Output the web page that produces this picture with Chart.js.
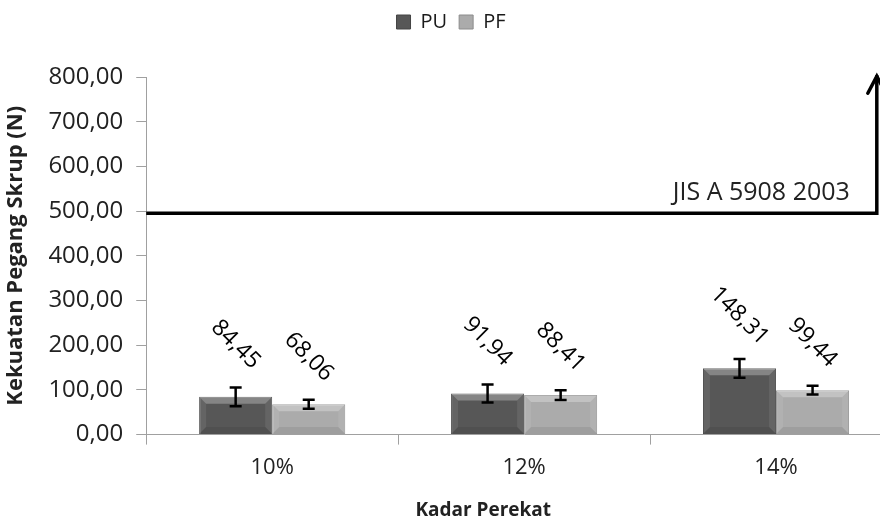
<!DOCTYPE html>
<html>
<head>
<meta charset="utf-8" />
<title>Kekuatan Pegang Skrup</title>
<script src="https://cdn.jsdelivr.net/npm/chart.js@4.4.0/dist/chart.umd.min.js"></script>
<style>
	body { margin: 0; padding: 0; overflow: hidden; background: #fff; }
	#wrap { position: relative; width: 905px; height: 521px; }
</style>
</head>
<body>

<div id="wrap"><canvas id="chart"></canvas></div>

<script>

// data
var categories = ['10%', '12%', '14%'];
var puValues = [84.45, 91.94, 148.31];
var pfValues = [68.06, 88.41, 99.44];
var puErrors = [21, 20, 21];
var pfErrors = [10, 11, 10];
var yMin = 0, yMax = 800, yStep = 100;

// JIS reference line
var jisLabel = 'JIS A 5908 2003';
var jisValue = 495;
var jisArrowTop = 804;
var jisEndCategory = 2.4;

var errors = [puErrors, pfErrors];
var fontName = "'Open Sans', sans-serif";

function fmt(v) {
	return v.toFixed(2).replace('.', ',');
}

// extra room under the legend
var legendSpace = {
	id: 'legendSpace',
	beforeInit: function (chart) {
		var fit = chart.legend.fit;
		chart.legend.fit = function () {
			fit.bind(chart.legend)();
			this.height += 35;
		};
	}
};

// bevel look on each bar
var bevelPlugin = {
	id: 'bevel',
	afterDatasetsDraw: function (chart) {
		var ctx = chart.ctx;
		chart.data.datasets.forEach(function (ds, i) {
			chart.getDatasetMeta(i).data.forEach(function (el) {
				var l = el.x - el.width / 2, r = el.x + el.width / 2;
				var t = el.y, b = el.base;
				var w = Math.min(7, (b - t) / 3);
				ctx.save();
				ctx.fillStyle = 'rgba(255,255,255,0.28)';
				ctx.beginPath();
				ctx.moveTo(l, t); ctx.lineTo(r, t); ctx.lineTo(r - w, t + w); ctx.lineTo(l + w, t + w);
				ctx.fill();
				ctx.fillStyle = 'rgba(255,255,255,0.08)';
				ctx.beginPath();
				ctx.moveTo(l, t); ctx.lineTo(l + w, t + w); ctx.lineTo(l + w, b - w); ctx.lineTo(l, b);
				ctx.fill();
				ctx.beginPath();
				ctx.moveTo(r, t); ctx.lineTo(r - w, t + w); ctx.lineTo(r - w, b - w); ctx.lineTo(r, b);
				ctx.fill();
				ctx.fillStyle = 'rgba(0,0,0,0.07)';
				ctx.beginPath();
				ctx.moveTo(l, b); ctx.lineTo(r, b); ctx.lineTo(r - w, b - w); ctx.lineTo(l + w, b - w);
				ctx.fill();
				ctx.restore();
			});
		});
	}
};

// error bars and rotated value labels
var errorPlugin = {
	id: 'errorBars',
	afterDatasetsDraw: function (chart) {
		var ctx = chart.ctx;
		var y = chart.scales.y;
		chart.data.datasets.forEach(function (ds, i) {
			chart.getDatasetMeta(i).data.forEach(function (el, j) {
				var v = ds.data[j];
				var e = errors[i][j];
				var top = y.getPixelForValue(v + e);
				var bot = y.getPixelForValue(v - e);
				ctx.save();
				ctx.strokeStyle = '#000';
				ctx.lineWidth = 2.5;
				ctx.beginPath();
				ctx.moveTo(el.x, top); ctx.lineTo(el.x, bot);
				ctx.moveTo(el.x - 6, top); ctx.lineTo(el.x + 6, top);
				ctx.moveTo(el.x - 6, bot); ctx.lineTo(el.x + 6, bot);
				ctx.stroke();

				ctx.translate(el.x, top - 43);
				ctx.rotate(Math.PI / 4);
				ctx.fillStyle = '#000';
				ctx.font = '23px ' + fontName;
				ctx.textAlign = 'center';
				ctx.textBaseline = 'middle';
				ctx.fillText(fmt(v), 0, 0);
				ctx.restore();
			});
		});
	}
};

// JIS line with arrow, and x axis title
var jisPlugin = {
	id: 'jisLine',
	afterDraw: function (chart) {
		var ctx = chart.ctx;
		var x = chart.scales.x, y = chart.scales.y;
		var yl = y.getPixelForValue(jisValue);
		var xe = x.getPixelForValue(jisEndCategory);
		var yt = y.getPixelForValue(jisArrowTop);
		ctx.save();
		ctx.strokeStyle = '#000';
		ctx.lineWidth = 3.5;
		ctx.lineJoin = 'miter';
		ctx.beginPath();
		ctx.moveTo(chart.chartArea.left, yl);
		ctx.lineTo(xe, yl);
		ctx.lineTo(xe, yt);
		ctx.stroke();
		ctx.lineCap = 'round';
		ctx.beginPath();
		ctx.moveTo(xe - 9, yt + 18); ctx.lineTo(xe, yt + 1); ctx.lineTo(xe + 9, yt + 18);
		ctx.stroke();

		ctx.fillStyle = '#222';
		ctx.font = '25px ' + fontName;
		ctx.textAlign = 'right';
		ctx.textBaseline = 'alphabetic';
		ctx.fillText(jisLabel, xe - 27, yl - 13);

		ctx.font = 'bold 19px ' + fontName;
		ctx.textAlign = 'center';
		ctx.textBaseline = 'middle';
		ctx.fillText('Kadar Perekat', chart.chartArea.left + 337, 511);
		ctx.restore();
	}
};

var chart = new Chart(document.getElementById('chart'), {
	type: 'bar',
	data: {
		labels: categories,
		datasets: [{
			label: 'PU',
			data: puValues,
			backgroundColor: '#575757',
			borderColor: '#454545',
			borderWidth: 1
		}, {
			label: 'PF',
			data: pfValues,
			backgroundColor: '#ababab',
			borderColor: '#8c8c8c',
			borderWidth: 1
		}]
	},
	options: {
		responsive: true,
		maintainAspectRatio: false,
		animation: false,
		layout: { padding: { top: 0, right: 3, bottom: 30, left: 0 } },
		datasets: { bar: { categoryPercentage: 0.58, barPercentage: 1 } },
		plugins: {
			legend: {
				position: 'top',
				labels: {
					boxWidth: 14,
					boxHeight: 14,
					padding: 12,
					color: '#1a1a1a',
					font: { family: fontName, size: 20 }
				}
			},
			tooltip: { enabled: false }
		},
		scales: {
			x: {
				grid: { drawOnChartArea: false, tickLength: 10, color: '#a0a0a0', offset: true },
				border: { color: '#a0a0a0' },
				ticks: { color: '#222', padding: 10, font: { family: fontName, size: 22 } }
			},
			y: {
				min: yMin,
				max: yMax,
				grid: { drawOnChartArea: false, tickLength: 10, color: '#a0a0a0' },
				border: { color: '#a0a0a0' },
				ticks: {
					stepSize: yStep,
					color: '#222',
					padding: 13,
					font: { family: fontName, size: 24 },
					callback: function (v) { return fmt(v); }
				},
				title: {
					display: true,
					text: 'Kekuatan Pegang Skrup (N)',
					color: '#222',
					padding: { top: 3, bottom: 6 },
					font: { family: fontName, size: 22, weight: 'bold' }
				}
			}
		}
	},
	plugins: [legendSpace, bevelPlugin, errorPlugin, jisPlugin]
});

</script>

</body>
</html>
